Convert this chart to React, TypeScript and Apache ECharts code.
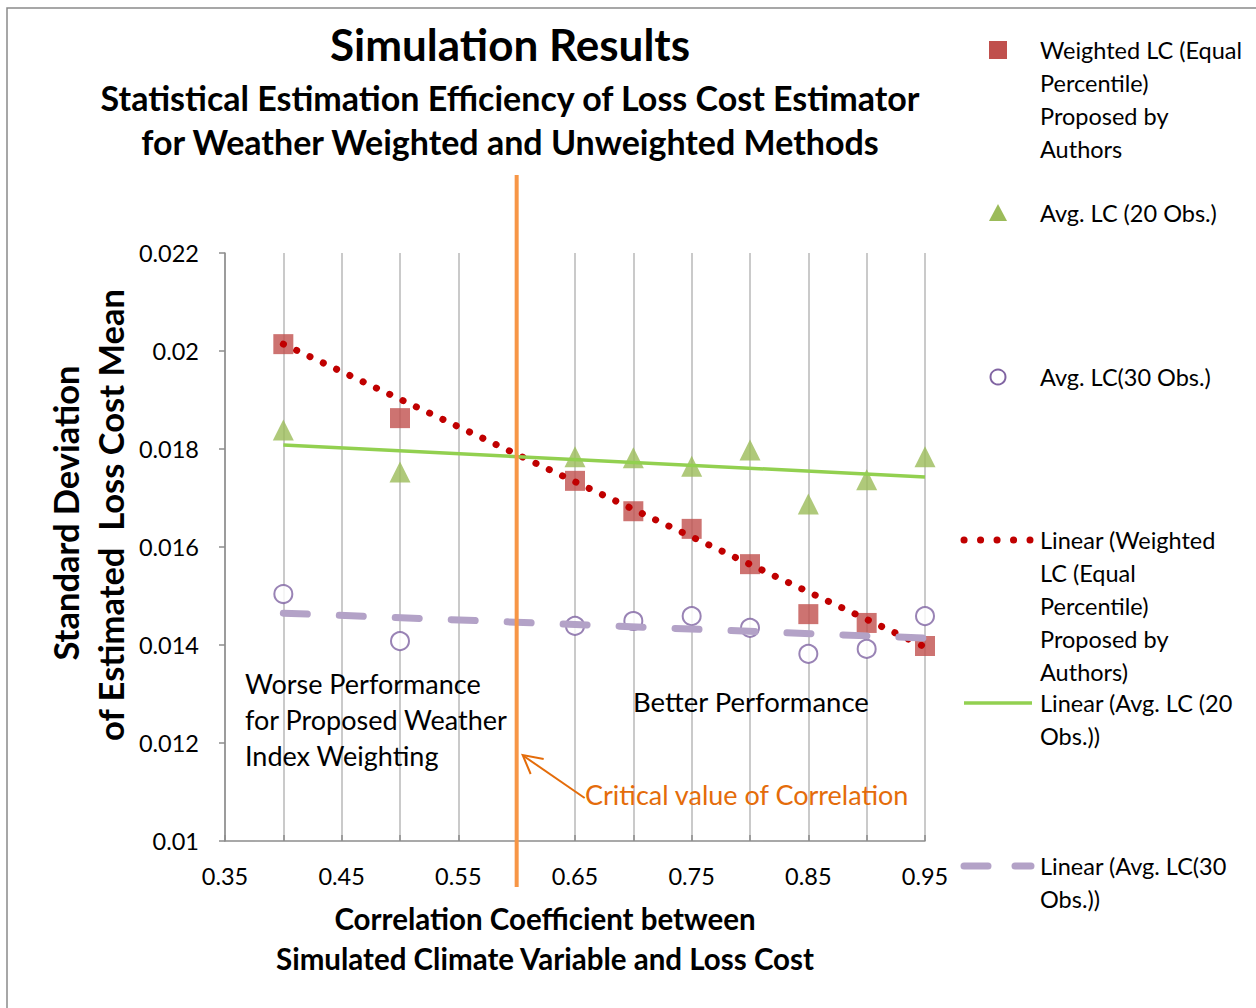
import React, { useEffect, useRef } from 'react';
import * as echarts from 'echarts';

// ---- Data ----
const xValues = [0.4, 0.5, 0.65, 0.7, 0.75, 0.8, 0.85, 0.9, 0.95];
const weightedLC = [0.02014, 0.01863, 0.01735, 0.01673, 0.01637, 0.01565, 0.01463, 0.01445, 0.01398];
const avgLC20 = [0.01839, 0.01753, 0.01784, 0.01782, 0.01765, 0.01798, 0.01688, 0.01737, 0.01784];
const avgLC30 = [0.01504, 0.01408, 0.01439, 0.01449, 0.01459, 0.01435, 0.01382, 0.01392, 0.01459];
const trendX = [0.4, 0.95];
const trendWeighted = [0.02014, 0.01396];
const trend20 = [0.01808, 0.01743];
const trend30 = [0.01465, 0.01414];
const criticalCorrelation = 0.6;

const seriesNames = [
  'Weighted LC (Equal Percentile) Proposed by Authors',
  'Avg. LC (20 Obs.)',
  'Avg. LC(30 Obs.)',
  'Linear (Weighted LC (Equal Percentile) Proposed by Authors)',
  'Linear (Avg. LC (20 Obs.))',
  'Linear (Avg. LC(30 Obs.))',
];
const legendLabels = [
  'Weighted LC (Equal\nPercentile)\nProposed by\nAuthors',
  'Avg. LC (20 Obs.)',
  'Avg. LC(30 Obs.)',
  'Linear (Weighted\nLC (Equal\nPercentile)\nProposed by\nAuthors)',
  'Linear (Avg. LC (20\nObs.))',
  'Linear (Avg. LC(30\nObs.))',
];

const FONT = 'Lato, "Open Sans", sans-serif';
const C_SQ = '#c0504d';
const C_TRI = '#9bbb59';
const C_CIR = '#8064a2';
const C_DOT = '#c00000';
const C_GREEN = '#92d050';
const C_PURPLE = '#b3a2c7';
const C_ORANGE = '#f79646';
const C_ORANGE_TXT = '#e46c0a';

const zip = (xs: number[], ys: number[]) => xs.map((x, i) => [x, ys[i]]);

export default function App() {
  const ref = useRef<HTMLDivElement>(null);
  useEffect(() => {
    document.body.style.margin = '0';
    if (!ref.current) return;
    const chart = echarts.init(ref.current, null, { renderer: 'svg' });
    const option: any = {
      animation: false,
      backgroundColor: '#ffffff',
      textStyle: { fontFamily: FONT },
      grid: { left: 225, right: 331, top: 253, bottom: 167, containLabel: false },
      xAxis: {
        type: 'value',
        min: 0.35,
        max: 0.95,
        interval: 0.05,
        axisLine: { show: true, lineStyle: { color: '#8c8c8c', width: 1.5 } },
        axisTick: { show: true, inside: true, length: 6, lineStyle: { color: '#8c8c8c', width: 1.5 } },
        splitLine: { show: true, lineStyle: { color: '#b8b8b8', width: 1.5 } },
        axisLabel: {
          fontFamily: FONT,
          fontSize: 23.5,
          color: '#000',
          margin: 23,
          formatter: (v: number) => {
            const k = Math.round((v - 0.35) / 0.05);
            return k % 2 === 0 ? v.toFixed(2) : '';
          },
        },
      },
      yAxis: {
        type: 'value',
        min: 0.01,
        max: 0.022,
        interval: 0.002,
        axisLine: { show: true, lineStyle: { color: '#8c8c8c', width: 1.5 } },
        axisTick: { show: true, length: 6, lineStyle: { color: '#8c8c8c', width: 1.5 } },
        splitLine: { show: false },
        axisLabel: {
          fontFamily: FONT,
          fontSize: 23.5,
          color: '#000',
          margin: 26,
          formatter: (v: number) => String(parseFloat(v.toFixed(3))),
        },
      },
      series: [
        {
          name: seriesNames[0],
          type: 'scatter',
          symbol: 'rect',
          symbolSize: 20,
          itemStyle: { color: C_SQ },
          data: zip(xValues, weightedLC),
        },
        {
          name: seriesNames[1],
          type: 'scatter',
          symbol: 'triangle',
          symbolSize: 21,
          itemStyle: { color: C_TRI },
          data: zip(xValues, avgLC20),
        },
        {
          name: seriesNames[2],
          type: 'scatter',
          symbol: 'circle',
          symbolSize: 18,
          itemStyle: { color: '#ffffff', borderColor: C_CIR, borderWidth: 2 },
          data: zip(xValues, avgLC30),
        },
        {
          name: seriesNames[3],
          type: 'line',
          showSymbol: false,
          symbol: 'none',
          lineStyle: { color: C_DOT, width: 7, type: [0.1, 14.6], cap: 'round' },
          data: zip(trendX, trendWeighted),
        },
        {
          name: seriesNames[4],
          type: 'line',
          showSymbol: false,
          symbol: 'none',
          lineStyle: { color: C_GREEN, width: 3.5 },
          data: zip(trendX, trend20),
        },
        {
          name: seriesNames[5],
          type: 'line',
          showSymbol: false,
          symbol: 'none',
          lineStyle: { color: C_PURPLE, width: 7, type: [24, 32], cap: 'round' },
          data: zip(trendX, trend30),
        },
      ],
    };
    chart.setOption(option);

    const cx = chart.convertToPixel({ xAxisIndex: 0 }, criticalCorrelation) as number;

    const txt = (x: number, y: number, text: string, extra: any = {}) => ({
      type: 'text',
      x,
      y,
      z: 100,
      style: {
        text,
        fontFamily: FONT,
        fontSize: 24,
        fill: '#000',
        ...extra,
      },
    });

    const legendX = 1040;
    const legendTexts = [50, 213, 377, 540, 703, 866].map((y, i) =>
      txt(legendX, y - 16.5, legendLabels[i], { fontSize: 23.5, lineHeight: 33, verticalAlign: 'top' })
    );

    const graphic: any[] = [
      // outer border
      {
        type: 'rect',
        shape: { x: 7, y: 8, width: 1300, height: 1100 },
        style: { fill: 'none', stroke: '#8a8a8a', lineWidth: 1.5 },
        z: 0,
      },
      // titles
      txt(510, 44, 'Simulation Results', { fontSize: 44, fontWeight: 'bold', textAlign: 'center', verticalAlign: 'middle' }),
      txt(510, 97, 'Statistical Estimation Efficiency of Loss Cost Estimator', {
        fontSize: 34, fontWeight: 'bold', textAlign: 'center', verticalAlign: 'middle',
      }),
      txt(510, 141, 'for Weather Weighted and Unweighted Methods', {
        fontSize: 34, fontWeight: 'bold', textAlign: 'center', verticalAlign: 'middle',
      }),
      // axis titles
      txt(545, 918, 'Correlation Coefficient between', { fontSize: 29.5, fontWeight: 'bold', textAlign: 'center', verticalAlign: 'middle' }),
      txt(545, 958, 'Simulated Climate Variable and Loss Cost', { fontSize: 29.5, fontWeight: 'bold', textAlign: 'center', verticalAlign: 'middle' }),
      {
        type: 'text',
        x: 65,
        y: 513,
        rotation: Math.PI / 2,
        z: 100,
        style: { text: 'Standard Deviation', fontFamily: FONT, fontSize: 34.5, fontWeight: 'bold', fill: '#000', textAlign: 'center', verticalAlign: 'middle' },
      },
      {
        type: 'text',
        x: 110,
        y: 515,
        rotation: Math.PI / 2,
        z: 100,
        style: { text: 'of Estimated  Loss Cost Mean', fontFamily: FONT, fontSize: 34.5, fontWeight: 'bold', fill: '#000', textAlign: 'center', verticalAlign: 'middle' },
      },
      // critical line
      {
        type: 'line',
        z: 90,
        shape: { x1: cx, y1: 175, x2: cx, y2: 887 },
        style: { stroke: C_ORANGE, lineWidth: 4 },
      },
      // arrow
      {
        type: 'line',
        z: 90,
        shape: { x1: cx + 68, y1: 798, x2: cx + 7, y2: 756 },
        style: { stroke: C_ORANGE_TXT, lineWidth: 2 },
      },
      {
        type: 'polyline',
        z: 90,
        shape: { points: [[cx + 27, 759], [cx + 6, 755], [cx + 14, 774]] },
        style: { stroke: C_ORANGE_TXT, lineWidth: 2, fill: 'none' },
      },
      txt(585, 794, 'Critical value of Correlation', { fontSize: 27, fill: C_ORANGE_TXT, verticalAlign: 'middle' }),
      txt(245, 683 - 18, 'Worse Performance\nfor Proposed Weather\nIndex Weighting', { fontSize: 27, lineHeight: 36, verticalAlign: 'top' }),
      txt(633, 701, 'Better Performance', { fontSize: 27.5, verticalAlign: 'middle' }),
      // legend markers
      { type: 'rect', z: 100, shape: { x: 989, y: 41, width: 18, height: 18 }, style: { fill: C_SQ } },
      { type: 'polygon', z: 100, shape: { points: [[998, 204], [1007, 221], [989, 221]] }, style: { fill: C_TRI } },
      { type: 'circle', z: 100, shape: { cx: 998, cy: 377, r: 7.5 }, style: { fill: '#fff', stroke: C_CIR, lineWidth: 2 } },
      {
        type: 'line', z: 100,
        shape: { x1: 964, y1: 540, x2: 1030, y2: 540 },
        style: { stroke: C_DOT, lineWidth: 7, lineDash: [0.1, 16.4], lineCap: 'round' },
      },
      {
        type: 'line', z: 100,
        shape: { x1: 964, y1: 703, x2: 1032, y2: 703 },
        style: { stroke: C_GREEN, lineWidth: 3.5 },
      },
      {
        type: 'line', z: 100,
        shape: { x1: 964, y1: 866, x2: 1031, y2: 866 },
        style: { stroke: C_PURPLE, lineWidth: 7, lineDash: [24, 27], lineCap: 'round' },
      },
      ...legendTexts,
    ];
    chart.setOption({ graphic });

    return () => chart.dispose();
  }, []);
  return <div ref={ref} style={{ width: 1256, height: 1008 }} />;
}
